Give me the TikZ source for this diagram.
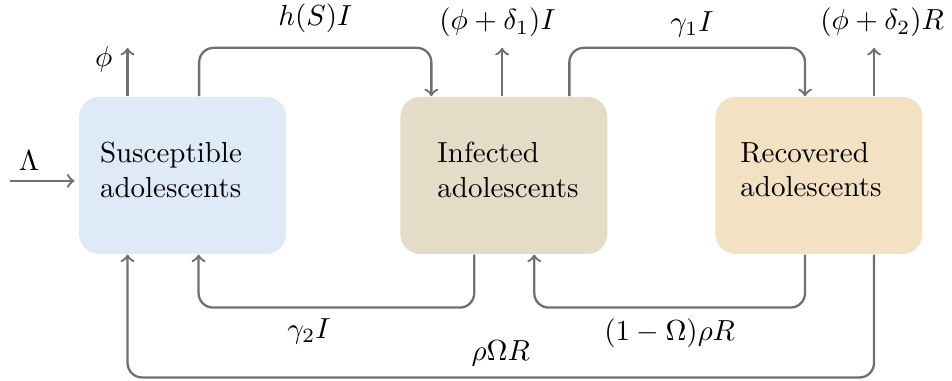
\documentclass[tikz,border=0pt]{standalone}
\usetikzlibrary{arrows,positioning}
\usepackage{amsmath}

\definecolor{flowgray}{HTML}{707070}
\definecolor{suscfill}{HTML}{DEEAF6}
\definecolor{inffill}{HTML}{E5DCC8}
\definecolor{recfill}{HTML}{F2E2C3}

\begin{document}
\begin{tikzpicture}
                [compartment/.style={rectangle,rounded corners=6.9pt,minimum width=71.4pt,minimum height=54.2pt,inner sep=0pt},
                 caption/.style={anchor=west,align=left,inner sep=0pt},
                 flow/.style={->,line width=0.8pt,draw=flowgray,rounded corners=5pt}]

                \useasboundingbox (-63pt,-70.9pt) rectangle (265.4pt,60.5pt);

                \node[compartment,fill=suscfill] (S) at (0,0)              {};
                \node[compartment,fill=inffill]  (I) [right=39pt of S]     {};
                \node[compartment,fill=recfill]  (R) [right=36.9pt of I]   {};

                \node[caption] (S text) at ([xshift=7.2pt,yshift=2pt]S.west)  {Susceptible\\adolescents};
                \node[caption] (I text) at ([xshift=12.8pt,yshift=2pt]I.west) {Infected\\adolescents};
                \node[caption] (R text) at ([xshift=8.6pt,yshift=2pt]R.west)  {Recovered\\adolescents};

                % free ends of the in- and outflows
                \coordinate (S in)  at ([xshift=-23.8pt,yshift=-1.9pt]S.west);
                \coordinate (S out) at ([xshift=-19pt,yshift=16.7pt]S.north);
                \coordinate (I out) at ([xshift=-0.6pt,yshift=16.7pt]I.north);
                \coordinate (R out) at ([xshift=19pt,yshift=16.7pt]R.north);

                \draw[flow] (S in) -- node[above,pos=0.3] {$\Lambda$} ([xshift=-1.4pt,yshift=-1.9pt]S.west);
                \draw[flow] ([xshift=-19pt]S.north) -- node[left,pos=0.76,xshift=-1.5pt] {$\phi$} (S out);
                \draw[flow] ([xshift=-0.6pt]I.north) -- (I out) node[above,xshift=-1.6pt] {$(\phi+\delta_1)I$};
                \draw[flow] ([xshift=19pt]R.north) -- (R out) node[above,xshift=2.8pt] {$(\phi+\delta_2)R$};

                % transfers along the top
                \draw[flow] ([xshift=5.7pt]S.north) |- node[pos=0.75,above,yshift=1.5pt] {$h(S)I$}
                    ([xshift=-25pt,yshift=16.7pt]I.north) -- ([xshift=-25pt]I.north);
                \draw[flow] ([xshift=22.6pt]I.north) |- node[pos=0.76,above] {$\gamma_1 I$}
                    ([xshift=-4.8pt,yshift=16.7pt]R.north) -- ([xshift=-4.8pt]R.north);

                % transfers along the bottom
                \draw[flow] ([xshift=-10.2pt]I.south) |- node[pos=0.8,below] {$\gamma_2 I$}
                    ([xshift=5.5pt,yshift=-18.3pt]S.south) -- ([xshift=5.5pt]S.south);
                \draw[flow] ([xshift=-4.8pt]R.south) |- node[pos=0.75,below] {$(1-\Omega)\rho R$}
                    ([xshift=10.5pt,yshift=-18.3pt]I.south) -- ([xshift=10.5pt]I.south);
                \draw[flow] ([xshift=19pt]R.south) |- node[pos=0.75,above] {$\rho\Omega R$}
                    ([xshift=-19pt,yshift=-42.4pt]S.south) -- ([xshift=-19pt]S.south);

            \end{tikzpicture}
\end{document}
